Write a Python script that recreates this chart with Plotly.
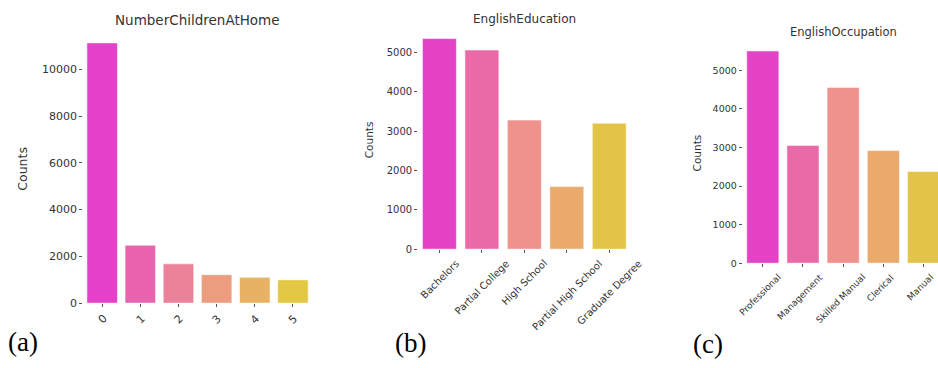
import plotly.graph_objects as go

W, H = 938, 368

children_cats = ["0", "1", "2", "3", "4", "5"]
children_counts = [11130, 2475, 1680, 1215, 1105, 995]
children_colors = ["#E440C8", "#E862AE", "#EC8299", "#EC9C7F", "#E8B264", "#E2C843"]

edu_cats = ["Bachelors", "Partial College", "High School", "Partial High School", "Graduate Degree"]
edu_counts = [5350, 5060, 3280, 1590, 3200]

occ_cats = ["Professional", "Management", "Skilled Manual", "Clerical", "Manual"]
occ_counts = [5505, 3055, 4560, 2920, 2380]

five_colors = ["#E443C5", "#EA6AA8", "#EF918D", "#EAAA6B", "#E2C548"]

titles = ["NumberChildrenAtHome", "EnglishEducation", "EnglishOccupation"]
panel_labels = ["(a)", "(b)", "(c)"]

TXT = "#333333"
FONT = "DejaVu Sans"

def px(x):
    return x / W

def py(y):
    return 1 - y / H

# layout geometry (pixels)
panels = [
    dict(cats=children_cats, vals=children_counts, colors=children_colors,
         x0=83.1, x1=312.0, ytop=30.4, ybot=309.0, yr=11690, xr=[-0.5, 5.5],
         tfs=13.5, tx=197.5, ty=20.7, ticks=[0, 2000, 4000, 6000, 8000, 10000],
         tickfs=11, cx=23, cy=172, cfs=12.5, xlfs=11, xsh=0, lx=23, ly=349),
    dict(cats=edu_cats, vals=edu_counts, colors=five_colors,
         x0=418.2, x1=630.5, ytop=28.6, ybot=254.0, yr=5617, xr=[-0.5, 4.5],
         tfs=12, tx=524, ty=19.3, ticks=[0, 1000, 2000, 3000, 4000, 5000],
         tickfs=10, cx=369, cy=143, cfs=10.5, xlfs=10, xsh=0, lx=410, ly=350),
    dict(cats=occ_cats, vals=occ_counts, colors=five_colors,
         x0=742.7, x1=938.0, ytop=41.0, ybot=268.3, yr=5783, xr=[-0.5, 4.36],
         tfs=11.5, tx=843.3, ty=32.3, ticks=[0, 1000, 2000, 3000, 4000, 5000],
         tickfs=9.5, cx=696.7, cy=155.7, cfs=10.5, xlfs=9, xsh=-3, lx=708, ly=351),
]

fig = go.Figure()
annotations = []
for i, p in enumerate(panels):
    n = "" if i == 0 else str(i + 1)
    fig.add_trace(go.Bar(
        x=p["cats"], y=p["vals"], xaxis="x" + n, yaxis="y" + n,
        marker=dict(color=p["colors"], line=dict(color="rgba(255,255,255,0.55)", width=1)),
        width=0.8, showlegend=False,
    ))
    fig.update_layout(**{
        "xaxis" + n: dict(
            domain=[px(p["x0"]), px(p["x1"])], range=p["xr"], anchor="y" + n,
            showgrid=False, zeroline=False, showline=False, showticklabels=False,
            ticks="outside", ticklen=3, tickcolor="#555555", tickwidth=1,
            type="category", fixedrange=True,
        ),
        "yaxis" + n: dict(
            domain=[py(p["ybot"]), py(p["ytop"])], range=[0, p["yr"]], anchor="x" + n,
            showgrid=False, zeroline=False, showline=False,
            tickvals=p["ticks"], ticktext=[str(t) for t in p["ticks"]],
            ticks="outside", ticklen=3, tickcolor="#555555", tickwidth=1,
            tickfont=dict(family=FONT, size=p["tickfs"], color=TXT),
            fixedrange=True,
        ),
    })
    # title
    annotations.append(dict(text=titles[i], xref="paper", yref="paper",
                            x=px(p["tx"]), y=py(p["ty"]), xanchor="center", yanchor="middle",
                            showarrow=False, font=dict(family=FONT, size=p["tfs"], color=TXT)))
    # y axis title
    annotations.append(dict(text="Counts", xref="paper", yref="paper", textangle=-90,
                            x=px(p["cx"]), y=py(p["cy"]), xanchor="center", yanchor="middle",
                            showarrow=False, font=dict(family=FONT, size=p["cfs"], color=TXT)))
    # rotated x tick labels (centered on ticks like matplotlib rotation=45)
    for c in p["cats"]:
        annotations.append(dict(text=c, xref="x" + n, yref="paper", x=c, y=py(p["ybot"]),
                                xanchor="center", yanchor="top", yshift=-6, xshift=p["xsh"],
                                textangle=-45, showarrow=False,
                                font=dict(family=FONT, size=p["xlfs"], color=TXT)))
    # panel label
    annotations.append(dict(text=panel_labels[i], xref="paper", yref="paper",
                            x=px(p["lx"]), y=py(p["ly"]), xanchor="center", yanchor="middle",
                            showarrow=False,
                            font=dict(family="Liberation Serif", size=27, color="#000000")))

fig.update_layout(
    width=W, height=H, margin=dict(l=0, r=0, t=0, b=0),
    paper_bgcolor="white", plot_bgcolor="white",
    annotations=annotations, bargap=0.2,
)

fig.write_html("out.html")
